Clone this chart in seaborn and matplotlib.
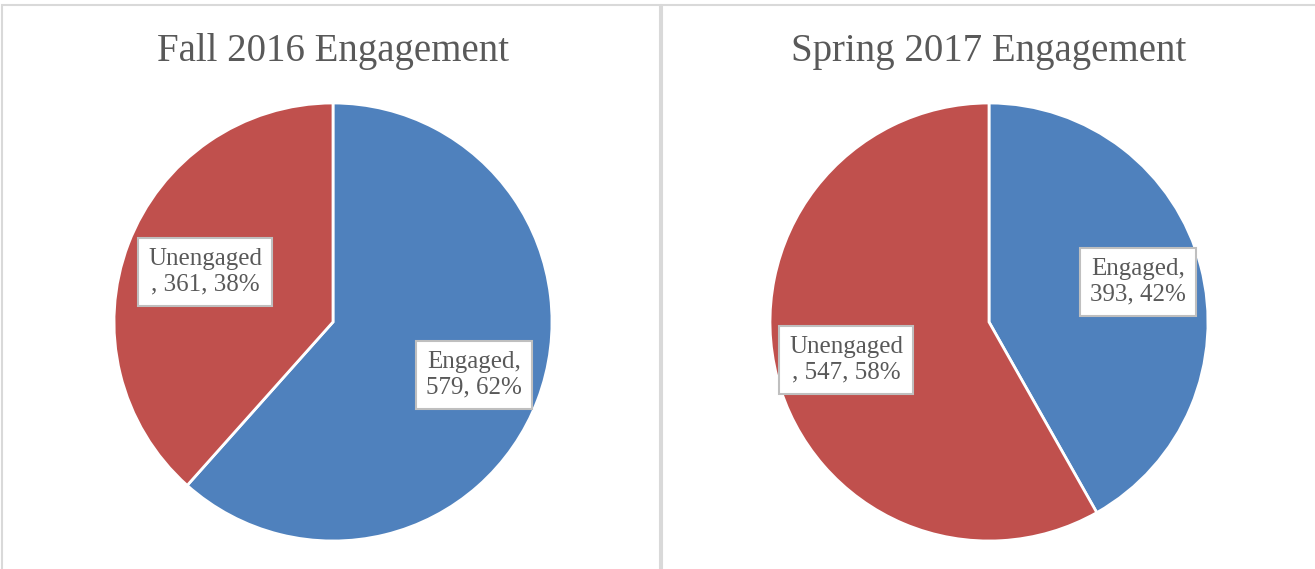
import matplotlib
matplotlib.use("Agg")
import matplotlib.pyplot as plt
from matplotlib.patches import Rectangle
import seaborn as sns

# data
titles = ["Fall 2016 Engagement", "Spring 2017 Engagement"]
categories = ["Engaged", "Unengaged"]
fall_counts = [579, 361]
spring_counts = [393, 547]
fall_pcts = [62, 38]
spring_pcts = [42, 58]

sns.set_theme(style="white")
plt.rcParams["font.family"] = ["Liberation Serif", "DejaVu Serif"]

colors = ["#4F81BD", "#C0504D"]
text_color = "#595959"

W, H = 1315, 569
fig = plt.figure(figsize=(W / 100, H / 100), dpi=100)

# panel borders
for x0, x1 in [(2, 660), (662, 1325)]:
    fig.patches.append(Rectangle((x0 / W, -0.05), (x1 - x0) / W, (H - 5) / H + 0.05,
                                 transform=fig.transFigure, fill=False,
                                 edgecolor="#D9D9D9", linewidth=1.5))

r = 219
centers = [(333, 322), (989, 322)]
# label centres in pie units (engaged, unengaged)
label_pos = [[(0.644, -0.242), (-0.584, 0.228)],
             [(0.680, 0.183), (-0.653, -0.174)]]
label_fmt = ["{cat},\n{n}, {p}%", "{cat}\n, {n}, {p}%"]

for i, (counts, pcts) in enumerate([(fall_counts, fall_pcts), (spring_counts, spring_pcts)]):
    cx, cy = centers[i]
    ax = fig.add_axes([(cx - r) / W, (H - cy - r) / H, 2 * r / W, 2 * r / H])
    ax.pie(counts, colors=colors, startangle=90, counterclock=False, radius=1,
           wedgeprops=dict(edgecolor="white", linewidth=2))
    ax.set_xlim(-1, 1)
    ax.set_ylim(-1, 1)
    ax.axis("off")
    for j, cat in enumerate(categories):
        lx, ly = label_pos[i][j]
        ax.text(lx, ly, label_fmt[j].format(cat=cat, n=counts[j], p=pcts[j]),
                ha="center", va="center", fontsize=18, color=text_color,
                linespacing=1.2,
                bbox=dict(boxstyle="square,pad=0.4", facecolor="white",
                          edgecolor="#BFBFBF", linewidth=1.5))
    fig.text(cx / W, (H - 51) / H, titles[i], ha="center", va="center",
             fontsize=28, color=text_color)

fig.savefig("out.png", dpi=100)
